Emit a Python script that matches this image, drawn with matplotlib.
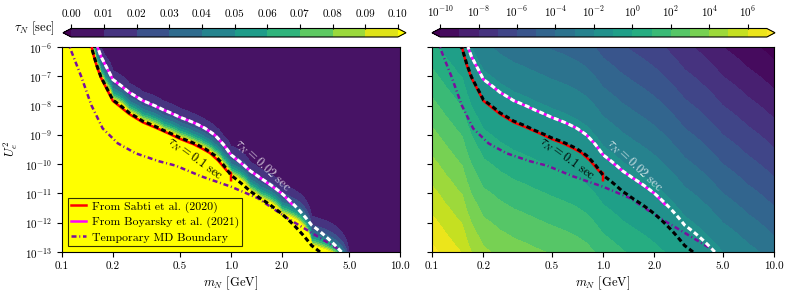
import numpy as np
import matplotlib.pyplot as plt
from matplotlib import ticker

plt.rcParams.update({
    "font.family": "serif",
    "font.serif": ["cmr10", "DejaVu Serif"],
    "mathtext.fontset": "cm",
    "axes.formatter.use_mathtext": True,
    "font.size": 8,
})

# lifetime of N for |U_e|^2 = 1, log10(tau / sec)
mass = np.array([0.10, 0.12, 0.14, 0.15, 0.16, 0.17, 0.18, 0.20, 0.25, 0.30,
                 0.40, 0.50, 0.60, 0.70, 0.80, 0.90, 1.00, 1.30, 1.50, 2.00,
                 3.00, 5.00, 7.00, 10.0])
log_tau_u1 = np.array([-5.73, -6.35, -6.85, -7.05, -7.60, -8.02, -8.30, -8.81,
                       -9.25, -9.53, -9.85, -10.10, -10.28, -10.47, -10.70,
                       -11.02, -11.38, -11.93, -12.18, -12.70, -13.78, -15.00,
                       -15.70, -16.45])

# literature curves, (m_N [GeV], log10 U_e^2)
sabti_m = [0.150, 0.155, 0.160, 0.170, 0.180, 0.20, 0.25, 0.30, 0.35, 0.43,
           0.50, 0.60, 0.67, 0.75, 0.84, 0.95, 1.00, 1.00]
sabti_u = [-6.02, -6.36, -6.63, -7.05, -7.33, -7.84, -8.29, -8.57, -8.73,
           -8.96, -9.14, -9.32, -9.46, -9.62, -9.88, -10.24, -10.30, -10.55]
boy_m = [0.163, 0.17, 0.18, 0.20, 0.25, 0.30, 0.40, 0.50, 0.60, 0.70, 0.80,
         0.90, 1.00, 1.30, 1.50, 2.00, 2.30]
boy_u = [-6.03, -6.32, -6.60, -7.11, -7.55, -7.83, -8.15, -8.40, -8.58, -8.77,
         -9.00, -9.32, -9.68, -10.23, -10.48, -11.00, -11.37]
md_m = [0.105, 0.111, 0.120, 0.130, 0.149, 0.174, 0.214, 0.273, 0.374, 0.47,
        0.67, 1.00, 1.44, 2.16, 2.82, 4.31, 4.60]
md_u = [-5.8, -6.0, -6.5, -7.01, -7.98, -8.78, -9.29, -9.63, -9.90, -10.05,
        -10.42, -10.77, -11.16, -11.85, -12.25, -12.90, -13.10]

u2_exp = np.linspace(-13, -6, 141)
M, U = np.meshgrid(mass, 10.0 ** u2_exp)
log_tau = log_tau_u1[None, :] - u2_exp[:, None]

fig = plt.figure(figsize=(7.85, 2.95), dpi=100)
ax1 = fig.add_axes([62 / 785, 1 - 252 / 295, 338 / 785, 205 / 295])
ax2 = fig.add_axes([432 / 785, 1 - 252 / 295, 342 / 785, 205 / 295])
cax1 = fig.add_axes([63 / 785, 1 - 37 / 295, 343 / 785, 8.5 / 295])
cax2 = fig.add_axes([432 / 785, 1 - 37 / 295, 343 / 785, 8.5 / 295])

cmap_lin = plt.get_cmap("viridis").copy()
cmap_lin.set_over("yellow")
cf1 = ax1.contourf(M, U, 10.0 ** log_tau, levels=np.linspace(0, 0.1, 11),
                   cmap=cmap_lin, extend="both")
cf2 = ax2.contourf(M, U, log_tau, levels=np.arange(-10, 8), cmap="viridis",
                   extend="both")

dash = (0, (1.6, 1.0))
for ax in (ax1, ax2):
    ax.plot(sabti_m, 10.0 ** np.array(sabti_u), color="red", lw=1.8,
            label="From Sabti et al. (2020)", zorder=3)
    ax.plot(boy_m, 10.0 ** np.array(boy_u), color="magenta", lw=1.8,
            label="From Boyarsky et al. (2021)", zorder=3)
    ax.plot(md_m, 10.0 ** np.array(md_u), color="#7a0f9e", lw=1.8,
            ls=(0, (2.0, 1.1, 0.4, 1.1)), label="Temporary MD Boundary",
            zorder=3)
    ax.contour(M, U, log_tau, levels=[np.log10(0.1)], colors="black",
               linewidths=2.2, linestyles=[dash], zorder=4)
    ax.contour(M, U, log_tau, levels=[np.log10(0.02)], colors="white",
               linewidths=2.2, linestyles=[dash], zorder=4)
    ax.text(0.61, 10 ** -9.84, r"$\tau_N = 0.1$ sec", rotation=-36,
            ha="center", va="center", fontsize=9, color="black", zorder=5)
    ax.text(1.53, 10 ** -10.05, r"$\tau_N = 0.02$ sec", rotation=-43,
            ha="center", va="center", fontsize=9, color="white", alpha=0.8,
            zorder=5)

    ax.set_xscale("log")
    ax.set_yscale("log")
    ax.set_xlim(0.1, 10)
    ax.set_ylim(1e-13, 1e-6)
    ax.xaxis.set_major_locator(ticker.FixedLocator([0.1, 0.2, 0.5, 1, 2, 5, 10]))
    ax.xaxis.set_major_formatter(ticker.FixedFormatter(
        ["0.1", "0.2", "0.5", "1.0", "2.0", "5.0", "10.0"]))
    ax.xaxis.set_minor_locator(ticker.NullLocator())
    ax.yaxis.set_major_locator(ticker.FixedLocator(10.0 ** np.arange(-13, -5)))
    ax.yaxis.set_minor_locator(ticker.NullLocator())
    ax.set_xlabel(r"$m_N$ [GeV]", fontsize=9, labelpad=2)

ax1.set_ylabel(r"$U_e^2$", fontsize=9)
ax2.set_yticklabels([])

leg = ax1.legend(loc="lower left", fontsize=8.5, handlelength=1.2,
                 fancybox=False, facecolor="none", edgecolor="black",
                 borderpad=0.3, labelspacing=0.35, handletextpad=0.5)
leg.get_frame().set_linewidth(0.8)

cb1 = fig.colorbar(cf1, cax=cax1, orientation="horizontal", extendfrac=0.025,
                   ticks=np.linspace(0, 0.1, 11))
cb1.ax.xaxis.set_ticks_position("top")
cb1.ax.xaxis.set_major_formatter(ticker.FormatStrFormatter("%.2f"))
cb2 = fig.colorbar(cf2, cax=cax2, orientation="horizontal", extendfrac=0.025,
                   ticks=np.arange(-10, 7, 2))
cb2.ax.xaxis.set_ticks_position("top")
cb2.ax.xaxis.set_major_formatter(
    ticker.FuncFormatter(lambda v, p: r"$10^{%d}$" % int(round(v))))
fig.text(55 / 785, 1 - 28 / 295, r"$\tau_N$ [sec]", ha="right", va="center",
         fontsize=9)

fig.savefig("out.png", dpi=100)
